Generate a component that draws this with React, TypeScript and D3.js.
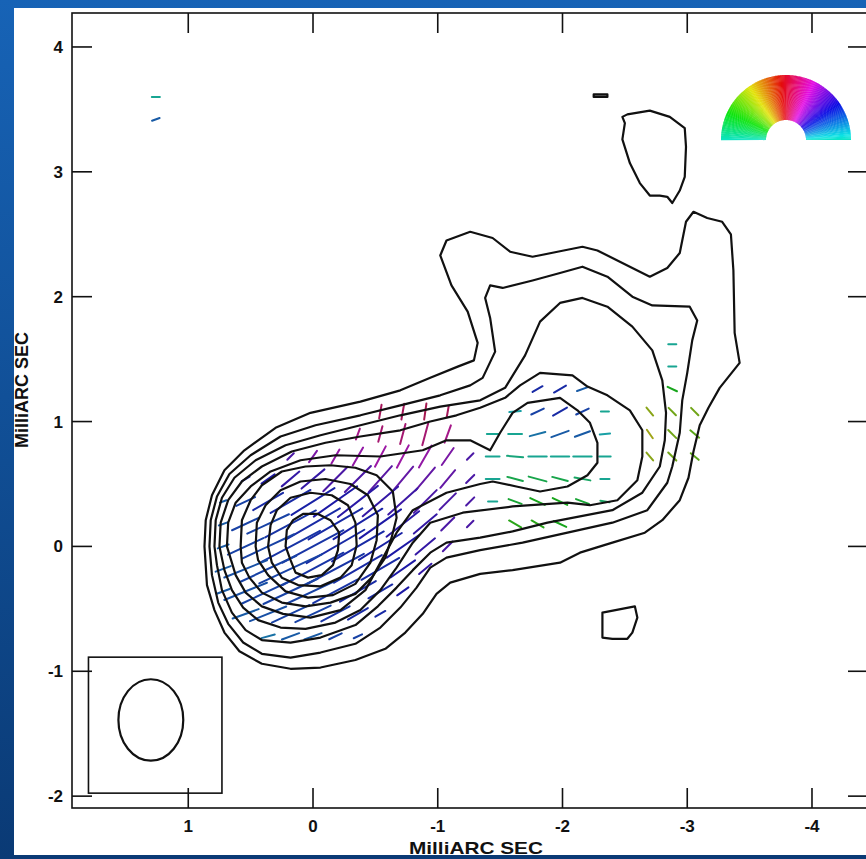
import React from 'react';
import * as d3 from 'd3';

const W = 866;
const H = 859;

// axes (milliarcseconds)
const xDomain = [1.932, -4.449];
const yDomain = [-2.095, 4.272];
const xTicks = [1, 0, -1, -2, -3, -4];
const yTicks = [4, 3, 2, 1, 0, -1, -2];
const axisTitle = 'MilliARC SEC';

// total intensity contours, outermost to innermost [x, y] in mas
const contour1 = [[0.87,0.00],[0.86,0.21],[0.81,0.41],[0.71,0.61],[0.55,0.77],[0.30,0.95],[0.02,1.07],[-0.38,1.16],[-0.70,1.25],[-0.94,1.35],[-1.16,1.44],[-1.29,1.49],[-1.32,1.63],[-1.24,1.88],[-1.11,2.09],[-1.02,2.33],[-1.07,2.45],[-1.26,2.52],[-1.44,2.47],[-1.58,2.36],[-1.76,2.32],[-1.96,2.36],[-2.16,2.40],[-2.28,2.37],[-2.46,2.28],[-2.70,2.16],[-2.84,2.23],[-2.94,2.35],[-2.99,2.60],[-3.05,2.68],[-3.16,2.63],[-3.28,2.60],[-3.35,2.50],[-3.37,2.21],[-3.38,1.71],[-3.42,1.47],[-3.26,1.27],[-3.17,1.11],[-3.10,0.97],[-3.05,0.76],[-3.01,0.55],[-2.94,0.37],[-2.80,0.21],[-2.66,0.11],[-2.40,0.03],[-2.14,-0.05],[-1.98,-0.13],[-1.60,-0.19],[-1.34,-0.22],[-1.10,-0.29],[-0.99,-0.38],[-0.88,-0.54],[-0.74,-0.69],[-0.58,-0.82],[-0.34,-0.91],[-0.06,-0.97],[0.18,-0.98],[0.41,-0.94],[0.59,-0.84],[0.71,-0.69],[0.79,-0.51],[0.85,-0.31]];
const contour2 = [[0.83,0.00],[0.82,0.21],[0.77,0.40],[0.67,0.58],[0.50,0.73],[0.26,0.88],[-0.02,0.97],[-0.38,1.05],[-0.70,1.13],[-1.02,1.21],[-1.26,1.29],[-1.36,1.35],[-1.46,1.56],[-1.42,1.83],[-1.38,1.99],[-1.42,2.09],[-1.52,2.07],[-1.76,2.13],[-1.98,2.19],[-2.16,2.24],[-2.36,2.16],[-2.56,2.00],[-2.72,1.93],[-3.02,1.92],[-3.08,1.81],[-3.04,1.65],[-3.00,1.39],[-2.96,1.17],[-2.94,0.91],[-2.88,0.64],[-2.84,0.51],[-2.68,0.29],[-2.40,0.19],[-2.04,0.11],[-1.68,0.03],[-1.34,-0.03],[-1.07,-0.09],[-0.94,-0.17],[-0.83,-0.33],[-0.70,-0.49],[-0.54,-0.65],[-0.34,-0.78],[-0.06,-0.85],[0.18,-0.89],[0.41,-0.86],[0.56,-0.77],[0.68,-0.62],[0.76,-0.45],[0.81,-0.23]];
const contour3 = [[0.79,0.00],[0.78,0.21],[0.73,0.39],[0.63,0.55],[0.46,0.69],[0.22,0.81],[-0.06,0.89],[-0.38,0.97],[-0.70,1.05],[-1.02,1.12],[-1.34,1.17],[-1.54,1.27],[-1.70,1.53],[-1.82,1.80],[-1.98,1.95],[-2.16,1.99],[-2.36,1.92],[-2.56,1.76],[-2.72,1.57],[-2.80,1.33],[-2.83,1.07],[-2.82,0.85],[-2.78,0.64],[-2.64,0.43],[-2.40,0.29],[-2.14,0.24],[-1.88,0.19],[-1.60,0.12],[-1.34,0.07],[-1.07,0.03],[-0.94,-0.05],[-0.80,-0.19],[-0.67,-0.33],[-0.52,-0.48],[-0.34,-0.63],[-0.06,-0.73],[0.18,-0.77],[0.41,-0.75],[0.54,-0.67],[0.65,-0.53],[0.73,-0.35],[0.77,-0.15]];
const contour4 = [[0.75,0.00],[0.74,0.19],[0.68,0.37],[0.57,0.52],[0.41,0.64],[0.17,0.76],[-0.10,0.83],[-0.38,0.88],[-0.70,0.93],[-0.94,1.00],[-1.15,1.05],[-1.34,1.11],[-1.54,1.19],[-1.66,1.29],[-1.82,1.39],[-2.08,1.37],[-2.20,1.28],[-2.36,1.21],[-2.54,1.09],[-2.64,0.93],[-2.64,0.72],[-2.60,0.53],[-2.44,0.37],[-2.22,0.33],[-2.04,0.35],[-1.60,0.32],[-1.20,0.27],[-0.94,0.19],[-0.80,0.03],[-0.67,-0.17],[-0.54,-0.35],[-0.38,-0.51],[-0.18,-0.61],[0.06,-0.66],[0.26,-0.65],[0.44,-0.59],[0.56,-0.49],[0.65,-0.35],[0.71,-0.19]];
const contour5 = [[0.69,0.00],[0.68,0.19],[0.62,0.35],[0.50,0.48],[0.34,0.60],[0.10,0.69],[-0.18,0.73],[-0.54,0.72],[-0.88,0.77],[-1.07,0.85],[-1.26,0.85],[-1.42,0.77],[-1.50,0.91],[-1.60,1.07],[-1.72,1.15],[-1.98,1.19],[-2.12,1.09],[-2.22,0.99],[-2.28,0.83],[-2.28,0.67],[-2.20,0.57],[-2.04,0.48],[-1.82,0.44],[-1.63,0.48],[-1.44,0.52],[-1.34,0.50],[-1.07,0.43],[-0.80,0.29],[-0.67,0.11],[-0.54,-0.13],[-0.42,-0.35],[-0.22,-0.51],[0.02,-0.57],[0.24,-0.54],[0.41,-0.48],[0.54,-0.37],[0.62,-0.23]];
const contour6 = [[0.58,0.00],[0.57,0.21],[0.50,0.37],[0.41,0.49],[0.25,0.60],[0.06,0.64],[-0.14,0.65],[-0.34,0.63],[-0.51,0.57],[-0.64,0.44],[-0.67,0.23],[-0.63,0.07],[-0.58,-0.09],[-0.47,-0.25],[-0.34,-0.38],[-0.14,-0.45],[0.06,-0.48],[0.25,-0.45],[0.41,-0.37],[0.51,-0.25],[0.57,-0.13]];
const contour7 = [[0.46,0.00],[0.45,0.19],[0.38,0.33],[0.26,0.45],[0.10,0.52],[-0.10,0.54],[-0.30,0.50],[-0.44,0.41],[-0.52,0.25],[-0.51,0.05],[-0.46,-0.13],[-0.34,-0.30],[-0.16,-0.39],[0.04,-0.41],[0.22,-0.36],[0.36,-0.23],[0.44,-0.11]];
const contour8 = [[0.36,0.00],[0.34,0.17],[0.29,0.29],[0.18,0.39],[0.02,0.43],[-0.15,0.41],[-0.28,0.33],[-0.34,0.19],[-0.35,0.01],[-0.31,-0.15],[-0.22,-0.25],[-0.06,-0.32],[0.12,-0.31],[0.25,-0.25],[0.33,-0.13]];
const contour9 = [[0.22,0.00],[0.21,0.13],[0.16,0.21],[0.08,0.26],[-0.04,0.26],[-0.14,0.21],[-0.21,0.11],[-0.20,-0.03],[-0.16,-0.15],[-0.07,-0.23],[0.04,-0.25],[0.14,-0.21],[0.18,-0.11]];
const islandNorth = [[-2.48,3.44],[-2.52,3.46],[-2.70,3.49],[-2.86,3.44],[-2.98,3.35],[-2.99,3.20],[-2.98,2.96],[-2.94,2.85],[-2.88,2.75],[-2.84,2.80],[-2.78,2.81],[-2.70,2.81],[-2.62,2.91],[-2.54,3.07],[-2.48,3.26],[-2.50,3.39]];
const islandSouth = [[-2.32,-0.53],[-2.58,-0.48],[-2.60,-0.57],[-2.56,-0.69],[-2.52,-0.74],[-2.40,-0.74],[-2.32,-0.73],[-2.32,-0.59]];
const islandTiny = [[-2.25,3.62],[-2.36,3.62],[-2.36,3.60],[-2.25,3.60]];
const contours = [contour1, contour2, contour3, contour4, contour5, contour6, contour7, contour8, contour9, islandNorth, islandSouth, islandTiny];

// polarization vectors [x, y, polarized intensity, EVPA deg from horizontal]
const jetVectors = [
  [-2.88,1.62,7,0],[-2.88,1.44,7,0],
  [-1.80,1.26,10,30],[-1.98,1.26,12,30],[-2.16,1.26,10,20],[-2.88,1.26,9,-25],
  [-0.54,1.08,12,80],[-0.72,1.08,14,80],[-0.90,1.08,14,82],[-1.08,1.08,10,80],[-1.62,1.08,10,5],[-1.80,1.08,12,25],[-1.98,1.08,14,30],[-2.16,1.08,12,25],[-2.34,1.08,7,0],[-2.70,1.08,9,-50],[-2.88,1.08,9,-45],[-3.06,1.08,9,-45],
  [-0.36,0.90,10,70],[-0.54,0.90,14,75],[-0.72,0.90,18,75],[-0.90,0.90,20,75],[-1.08,0.90,16,70],[-1.44,0.90,10,0],[-1.62,0.90,12,0],[-1.80,0.90,14,15],[-1.98,0.90,16,20],[-2.16,0.90,14,20],[-2.34,0.90,9,5],[-2.70,0.90,9,-55],[-2.88,0.90,10,-45],[-3.06,0.90,10,-40],
  [-1.26,0.72,8,45],[-1.44,0.72,12,0],[-1.62,0.72,14,-5],[-1.80,0.72,16,0],[-1.98,0.72,16,0],[-2.16,0.72,16,0],[-2.34,0.72,10,0],[-2.70,0.72,9,-50],[-2.88,0.72,10,-45],[-3.06,0.72,9,-40],
  [-1.26,0.54,10,45],[-1.44,0.54,12,0],[-1.62,0.54,14,-15],[-1.80,0.54,16,-15],[-1.98,0.54,14,-15],[-2.16,0.54,14,-10],[-2.34,0.54,8,0],
  [-1.26,0.36,10,45],[-1.44,0.36,8,0],[-1.62,0.36,12,-20],[-1.80,0.36,14,-25],[-1.98,0.36,14,-25],[-2.16,0.36,12,-20],[-2.34,0.36,8,-10],
  [-1.26,0.18,8,45],[-1.62,0.18,12,-30],[-1.80,0.18,12,-30],[-1.98,0.18,12,-25],
  [1.26,3.60,7,0],[1.26,3.42,7,20]
];
const coreVectors = [
  [0.18,0.72,8,45],[0,0.72,12,55],[-0.18,0.72,14,60],[-0.36,0.72,18,60],[-0.54,0.72,20,62],[-0.72,0.72,22,62],[-0.90,0.72,22,60],[-1.08,0.72,18,55],
  [0.54,0.54,8,30],[0.36,0.54,14,35],[0.18,0.54,20,40],[0,0.54,26,40],[-0.18,0.54,30,45],[-0.36,0.54,32,45],[-0.54,0.54,30,48],[-0.72,0.54,28,50],[-0.90,0.54,26,50],[-1.08,0.54,20,50],
  [0.72,0.36,6,20],[0.54,0.36,18,25],[0.36,0.36,30,30],[0.18,0.36,40,30],[0,0.36,44,32],[-0.18,0.36,46,35],[-0.36,0.36,44,38],[-0.54,0.36,40,40],[-0.72,0.36,34,42],[-0.90,0.36,28,45],[-1.08,0.36,20,45],
  [0.72,0.18,8,20],[0.54,0.18,26,25],[0.36,0.18,40,25],[0.18,0.18,50,28],[0,0.18,54,30],[-0.18,0.18,54,30],[-0.36,0.18,50,32],[-0.54,0.18,44,35],[-0.72,0.18,36,38],[-0.90,0.18,26,40],[-1.08,0.18,16,45],
  [0.72,0,10,20],[0.54,0,34,25],[0.36,0,50,25],[0.18,0,58,28],[0,0,60,28],[-0.18,0,58,30],[-0.36,0,52,30],[-0.54,0,44,32],[-0.72,0,34,35],[-0.90,0,22,40],[-1.08,0,12,45],
  [0.72,-0.18,14,20],[0.54,-0.18,40,22],[0.36,-0.18,54,25],[0.18,-0.18,60,25],[0,-0.18,60,28],[-0.18,-0.18,56,28],[-0.36,-0.18,48,30],[-0.54,-0.18,38,30],[-0.72,-0.18,26,35],[-0.90,-0.18,14,40],
  [0.72,-0.36,12,20],[0.54,-0.36,40,22],[0.36,-0.36,50,25],[0.18,-0.36,52,25],[0,-0.36,50,25],[-0.18,-0.36,44,28],[-0.36,-0.36,36,30],[-0.54,-0.36,24,30],[-0.72,-0.36,12,35],
  [0.54,-0.54,24,20],[0.36,-0.54,34,22],[0.18,-0.54,36,25],[0,-0.54,34,25],[-0.18,-0.54,28,28],[-0.36,-0.54,20,30],[-0.54,-0.54,10,30],
  [0.36,-0.72,12,15],[0.18,-0.72,16,20],[0,-0.72,16,20],[-0.18,-0.72,12,25],[-0.36,-0.72,8,25]
];
const vectorMasPerUnit = 1.15 / 124.8;

// restoring beam
const beamBox = [[1.80, -0.887], [0.73, -1.976]];
const beamCenter = [1.30, -1.39];
const beamAxes = [0.26, 0.326];

const evpaHue = (a: number) => {
  const phi = a < 0 ? a + 180 : a;
  return (172 + 2 * phi) % 360;
};

export default function App() {
  const x = d3.scaleLinear().domain(xDomain).range([72, 868]);
  const y = d3.scaleLinear().domain(yDomain).range([808, 13]);
  const path = d3.line<number[]>().x(d => x(d[0])).y(d => y(d[1])).curve(d3.curveLinearClosed);
  const pxPerMas = Math.abs(x(1) - x(0));
  const font = '"Liberation Sans", Arial, Helvetica, sans-serif';

  const vecLine = (v: number[], i: number, key: string) => {
    const [vx, vy, p, a] = v;
    const h = (p * vectorMasPerUnit * pxPerMas) / 2;
    const r = (a * Math.PI) / 180;
    const cx = x(vx), cy = y(vy);
    const c = d3.hsl(evpaHue(a), 0.75, 0.37);
    return (
      <line key={key + i} x1={cx - h * Math.cos(r)} y1={cy + h * Math.sin(r)} x2={cx + h * Math.cos(r)} y2={cy - h * Math.sin(r)}
        stroke={c.toString()} strokeWidth={2} strokeLinecap="round" />
    );
  };

  // colour wheel legend
  const wheelCx = 786, wheelCy = 140, rIn = 20, rOut = 65;
  const arc = d3.arc();
  const wedges = d3.range(0, 180, 1).map(phi => {
    const d = arc({ innerRadius: rIn, outerRadius: rOut, startAngle: ((90 - phi - 1.3) * Math.PI) / 180, endAngle: ((90 - phi) * Math.PI) / 180 } as any) as string;
    return <path key={'w' + phi} d={d} fill={d3.hsl(evpaHue(phi), 0.9, 0.47).toString()} />;
  });

  const L = 72, R = 868, T = 13, B = 808, tk = 20;

  return (
    <svg width={W} height={H} style={{ position: 'absolute', left: 0, top: 0, display: 'block' }}>
      <defs>
        <linearGradient id="bg" x1="0" y1="0" x2="0" y2="1">
          <stop offset="0" stopColor="#1763b6" />
          <stop offset="1" stopColor="#0a3a75" />
        </linearGradient>
        <clipPath id="plot"><rect x={L} y={T} width={R - L} height={B - T} /></clipPath>
      </defs>
      <rect x={0} y={0} width={W} height={H} fill="url(#bg)" />
      <rect x={14} y={8} width={W - 14} height={855 - 8} fill="#ffffff" />

      <g clipPath="url(#plot)">
        {coreVectors.map((v, i) => vecLine(v, i, 'c'))}
        {jetVectors.map((v, i) => vecLine(v, i, 'j'))}
        {contours.map((c, i) => (
          <path key={'ct' + i} d={path(c) as string} fill="none" stroke="#111" strokeWidth={2.2} strokeLinejoin="round" />
        ))}
      </g>

      <g transform={`translate(${wheelCx},${wheelCy})`}>{wedges}</g>

      {/* beam */}
      <rect x={x(beamBox[0][0])} y={y(beamBox[0][1])} width={x(beamBox[1][0]) - x(beamBox[0][0])} height={y(beamBox[1][1]) - y(beamBox[0][1])}
        fill="#fff" stroke="#111" strokeWidth={1.6} />
      <ellipse cx={x(beamCenter[0])} cy={y(beamCenter[1])} rx={beamAxes[0] * pxPerMas} ry={beamAxes[1] * Math.abs(y(1) - y(0))}
        fill="none" stroke="#111" strokeWidth={2.2} />

      {/* frame and ticks */}
      <rect x={L} y={T} width={R - L} height={B - T} fill="none" stroke="#111" strokeWidth={1.6} />
      {xTicks.map(t => (
        <g key={'xt' + t}>
          <line x1={x(t)} x2={x(t)} y1={T} y2={T + tk} stroke="#111" strokeWidth={1.6} />
          <line x1={x(t)} x2={x(t)} y1={B} y2={B - tk} stroke="#111" strokeWidth={1.6} />
          <text x={x(t)} y={832} textAnchor="middle" fontFamily={font} fontWeight="bold" fontSize={17} fill="#111">{t}</text>
        </g>
      ))}
      {yTicks.map(t => (
        <g key={'yt' + t}>
          <line x1={L} x2={L + tk} y1={y(t)} y2={y(t)} stroke="#111" strokeWidth={1.6} />
          <line x1={R} x2={R - tk} y1={y(t)} y2={y(t)} stroke="#111" strokeWidth={1.6} />
          <text x={63} y={y(t) + 6} textAnchor="end" fontFamily={font} fontWeight="bold" fontSize={17} fill="#111">{t}</text>
        </g>
      ))}
      <text x={476} y={854} textAnchor="middle" fontFamily={font} fontWeight="bold" fontSize={17} textLength={134} lengthAdjust="spacingAndGlyphs" fill="#111">{axisTitle}</text>
      <text transform={`translate(28,390) rotate(-90)`} textAnchor="middle" fontFamily={font} fontWeight="bold" fontSize={18} fill="#111">{axisTitle}</text>
    </svg>
  );
}
